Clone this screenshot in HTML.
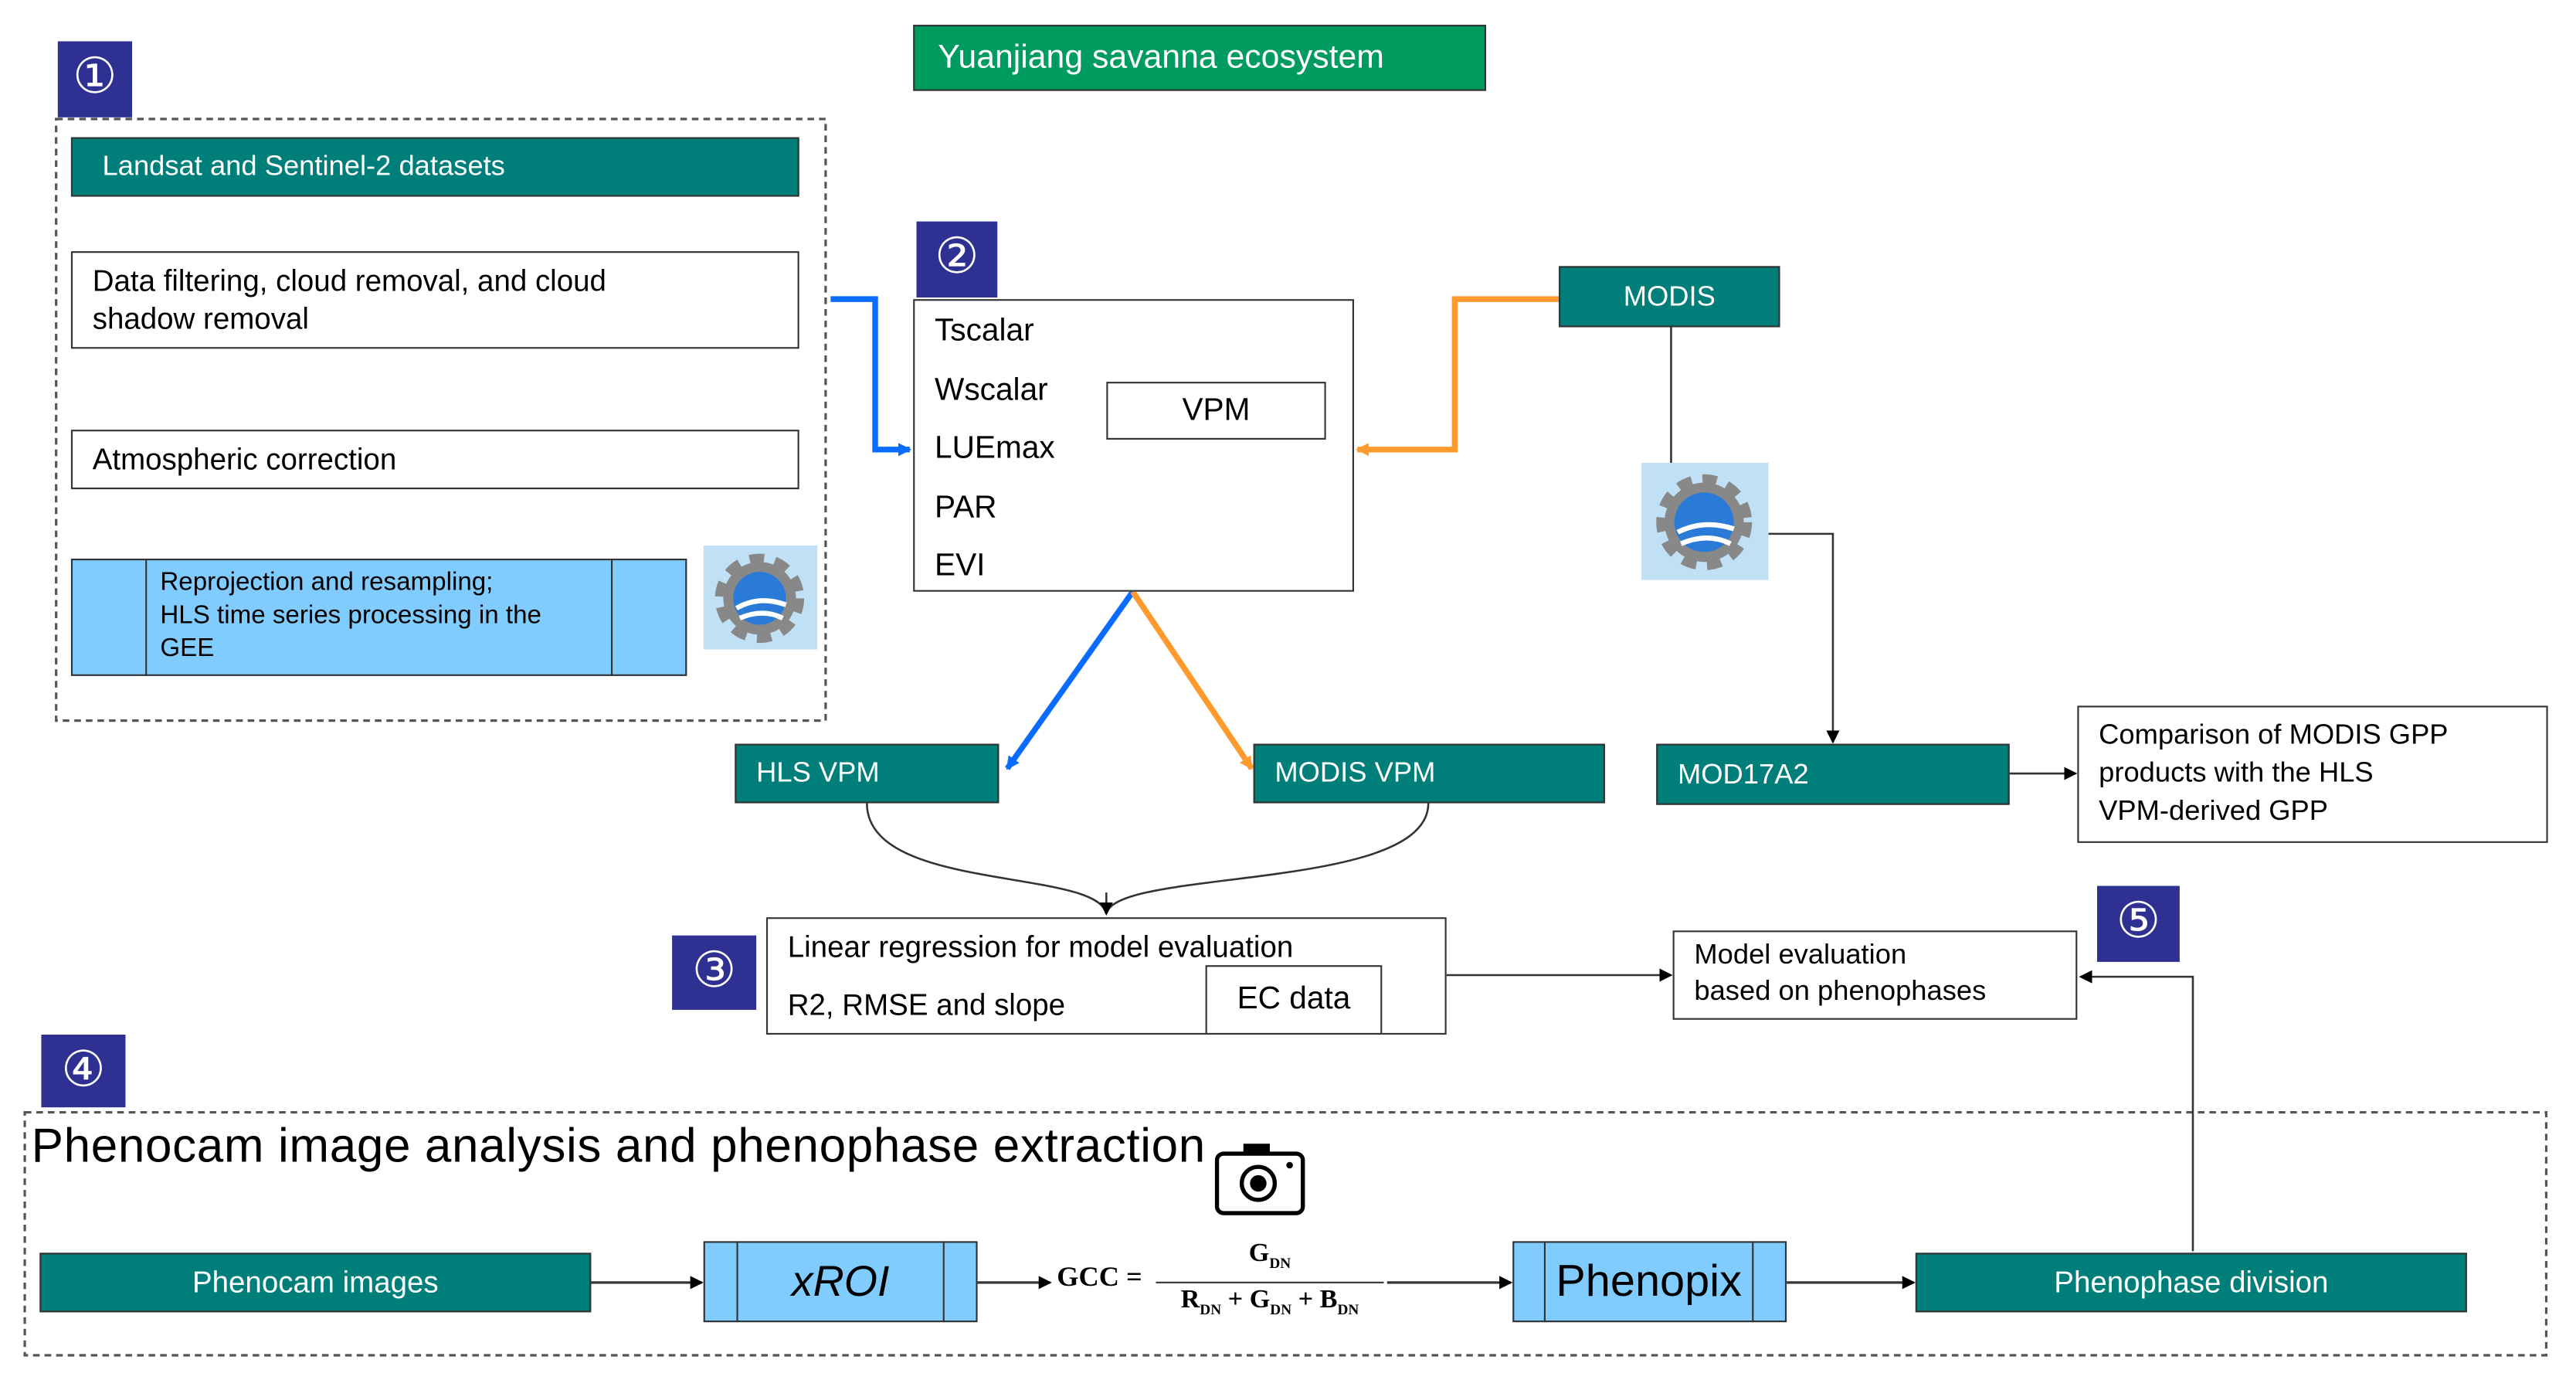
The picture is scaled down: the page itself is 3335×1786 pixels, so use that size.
<!DOCTYPE html>
<html><head><meta charset="utf-8"><style>
body{margin:0;background:#fff;width:3335px;height:1786px;overflow:hidden}
#w{position:absolute;left:0;top:0;width:1560px;height:835px;transform:scale(2.1378,2.139);transform-origin:0 0;font-family:"Liberation Sans",sans-serif}
.b{position:absolute;box-sizing:border-box;white-space:nowrap}
.t{background:#007f7a;color:#fff;border:1.5px solid #333}
.w{background:#fff;border:1.5px solid #333;color:#000}
.lb{background:#80ccff;border:1.5px solid #333}
.bd{background:#2e3192;color:#fff;font-size:30px;text-align:center;line-height:44px}
svg{position:absolute;left:0;top:0}
</style></head><body><div id="w">
<svg width="1560" height="835">
<defs>
<marker id="ab" markerWidth="8" markerHeight="8" refX="7" refY="4" orient="auto" markerUnits="userSpaceOnUse"><path d="M0,0L8,4L0,8z" fill="#0a6cff"/></marker>
<marker id="ao" markerWidth="8" markerHeight="8" refX="7" refY="4" orient="auto" markerUnits="userSpaceOnUse"><path d="M0,0L8,4L0,8z" fill="#ff9a2e"/></marker>
<marker id="ak" markerWidth="8" markerHeight="8" refX="7" refY="4" orient="auto" markerUnits="userSpaceOnUse"><path d="M0,0L8,4L0,8z" fill="#000"/></marker>
</defs>
<rect x="34" y="72" width="466" height="364" fill="none" stroke="#555" stroke-width="1.5" stroke-dasharray="4,3"/>
<rect x="15" y="673" width="1527" height="147" fill="none" stroke="#555" stroke-width="1.5" stroke-dasharray="4,3"/>
<path d="M503,181H530V272H551" fill="none" stroke="#0a6cff" stroke-width="3.5" marker-end="url(#ab)"/>
<path d="M944,181H881V272H822" fill="none" stroke="#ff9a2e" stroke-width="3.5" marker-end="url(#ao)"/>
<path d="M686,358L610,465" stroke="#0a6cff" stroke-width="3.5" marker-end="url(#ab)"/>
<path d="M686,358L758,465" stroke="#ff9a2e" stroke-width="3.5" marker-end="url(#ao)"/>
<path d="M1012,198V282" stroke="#333" stroke-width="1.2"/>
<path d="M1071,323H1110V449" fill="none" stroke="#333" stroke-width="1.2" marker-end="url(#ak)"/>
<path d="M1217,468H1257" stroke="#333" stroke-width="1.2" marker-end="url(#ak)"/>
<path d="M525,486C525,540 665,525 670,553M865,486C865,540 675,525 670,553" fill="none" stroke="#333" stroke-width="1.2"/>
<path d="M670,540V553" stroke="#333" stroke-width="1.2" marker-end="url(#ak)"/>
<path d="M876,590H1012" stroke="#333" stroke-width="1.2" marker-end="url(#ak)"/>
<path d="M1328,757V591H1260" fill="none" stroke="#333" stroke-width="1.2" marker-end="url(#ak)"/>
<path d="M358,776H425" stroke="#333" stroke-width="1.5" marker-end="url(#ak)"/>
<path d="M592,776H636" stroke="#333" stroke-width="1.5" marker-end="url(#ak)"/>
<path d="M840,776H915" stroke="#333" stroke-width="1.5" marker-end="url(#ak)"/>
<path d="M1082,776H1159" stroke="#333" stroke-width="1.5" marker-end="url(#ak)"/>
<line x1="700" y1="776" x2="838" y2="776" stroke="#333" stroke-width="1"/>
</svg>
<div class="b" style="left:553px;top:15px;width:347px;height:40px;background:#009b5e;border:1.5px solid #333;color:#fff;font-size:20px;line-height:38px;padding-left:14px">Yuanjiang savanna ecosystem</div>
<div class="b bd" style="left:35px;top:25px;width:45px;height:46px">①</div>
<div class="b t" style="left:43px;top:83px;width:441px;height:36px;font-size:17px;line-height:34px;padding-left:18px">Landsat and Sentinel-2 datasets</div>
<div class="b w" style="left:43px;top:152px;width:441px;height:59px;font-size:18px;line-height:23px;padding:6px 12px">Data filtering, cloud removal, and cloud<br>shadow removal</div>
<div class="b w" style="left:43px;top:260px;width:441px;height:36px;font-size:18px;line-height:34px;padding-left:12px">Atmospheric correction</div>
<div class="b lb" style="left:43px;top:338px;width:373px;height:71px"></div>
<div class="b" style="left:88px;top:338px;width:283px;height:71px;border-left:1.5px solid #333;border-right:1.5px solid #333;font-size:15.5px;line-height:20px;padding:5px 8px">Reprojection and resampling;<br>HLS time series processing in the<br>GEE</div>
<svg style="left:426px;top:330px" width="69" height="63"><rect width="69" height="63" fill="#bfe0f5"/><circle cx="34" cy="32" r="22" fill="#888" stroke="#888" stroke-width="10" stroke-dasharray="8,6"/><circle cx="34" cy="32" r="16" fill="#2a7ad8"/><path d="M20,38Q34,30 50,36M22,44Q36,38 48,44" stroke="#fff" stroke-width="3" fill="none"/></svg>
<div class="b bd" style="left:555px;top:134px;width:49px;height:46px">②</div>
<div class="b w" style="left:553px;top:181px;width:267px;height:177px;font-size:19px;line-height:35.5px;padding:1px 12px">Tscalar<br>Wscalar<br>LUEmax<br>PAR<br>EVI</div>
<div class="b w" style="left:670px;top:231px;width:133px;height:35px;font-size:19px;line-height:33px;text-align:center">VPM</div>
<div class="b t" style="left:944px;top:161px;width:134px;height:37px;font-size:17px;line-height:35px;text-align:center">MODIS</div>
<svg style="left:994px;top:280px" width="77" height="71"><rect width="77" height="71" fill="#bfe0f5"/><circle cx="38" cy="36" r="24" fill="#888" stroke="#888" stroke-width="10" stroke-dasharray="8,6"/><circle cx="38" cy="36" r="18" fill="#2a7ad8"/><path d="M22,42Q38,34 56,40M24,49Q40,42 54,49" stroke="#fff" stroke-width="3" fill="none"/></svg>
<div class="b t" style="left:445px;top:450px;width:160px;height:36px;font-size:17px;line-height:34px;padding-left:12px">HLS VPM</div>
<div class="b t" style="left:759px;top:450px;width:213px;height:36px;font-size:17px;line-height:34px;padding-left:12px">MODIS VPM</div>
<div class="b t" style="left:1003px;top:450px;width:214px;height:37px;font-size:17px;line-height:35px;padding-left:12px">MOD17A2</div>
<div class="b w" style="left:1258px;top:427px;width:285px;height:83px;font-size:17px;line-height:23px;padding:5px 12px">Comparison of MODIS GPP<br>products with the HLS<br>VPM-derived GPP</div>
<div class="b bd" style="left:407px;top:566px;width:51px;height:45px">③</div>
<div class="b w" style="left:464px;top:555px;width:412px;height:71px;font-size:18px;line-height:35px;padding:0 12px">Linear regression for model evaluation<br>R2, RMSE and slope</div>
<div class="b w" style="left:730px;top:584px;width:107px;height:42px;font-size:19px;line-height:40px;text-align:center">EC data</div>
<div class="b w" style="left:1013px;top:563px;width:245px;height:54px;font-size:17px;line-height:22px;padding:3px 12px">Model evaluation<br>based on phenophases</div>
<div class="b bd" style="left:1270px;top:536px;width:50px;height:46px">⑤</div>
<div class="b bd" style="left:25px;top:626px;width:51px;height:44px">④</div>
<div class="b" style="left:19px;top:678px;font-size:29px;white-space:nowrap;letter-spacing:0.3px">Phenocam image analysis and phenophase extraction</div>
<svg style="left:735px;top:688px" width="56" height="48"><rect x="2" y="10" width="52" height="36" rx="4" fill="#fff" stroke="#000" stroke-width="2.5"/><rect x="18" y="4" width="16" height="7" fill="#000"/><circle cx="27" cy="28" r="10" fill="none" stroke="#000" stroke-width="2.5"/><circle cx="27" cy="28" r="5" fill="#000"/><circle cx="46" cy="17" r="2" fill="#000"/></svg>
<div class="b t" style="left:24px;top:758px;width:334px;height:36px;font-size:18px;line-height:34px;text-align:center">Phenocam images</div>
<div class="b lb" style="left:426px;top:751px;width:166px;height:49px"></div>
<div class="b" style="left:446px;top:751px;width:126px;height:49px;border-left:1.5px solid #333;border-right:1.5px solid #333;font-size:26px;font-style:italic;line-height:49px;text-align:center">xROI</div>
<div class="b" style="left:640px;top:763px;font-family:'Liberation Serif',serif;font-weight:bold;font-size:17px">GCC =</div>
<div class="b" style="left:700px;top:750px;width:138px;text-align:center;font-family:'Liberation Serif',serif;font-weight:bold;font-size:16px">G<sub style="font-size:9px">DN</sub></div>
<div class="b" style="left:700px;top:778px;width:138px;text-align:center;font-family:'Liberation Serif',serif;font-weight:bold;font-size:16px">R<sub style="font-size:9px">DN</sub> + G<sub style="font-size:9px">DN</sub> + B<sub style="font-size:9px">DN</sub></div>
<div class="b lb" style="left:916px;top:751px;width:166px;height:49px"></div>
<div class="b" style="left:935px;top:751px;width:127px;height:49px;border-left:1.5px solid #333;border-right:1.5px solid #333;font-size:27px;line-height:49px;text-align:center">Phenopix</div>
<div class="b t" style="left:1160px;top:758px;width:334px;height:36px;font-size:18px;line-height:34px;text-align:center">Phenophase division</div>
</div></body></html>
